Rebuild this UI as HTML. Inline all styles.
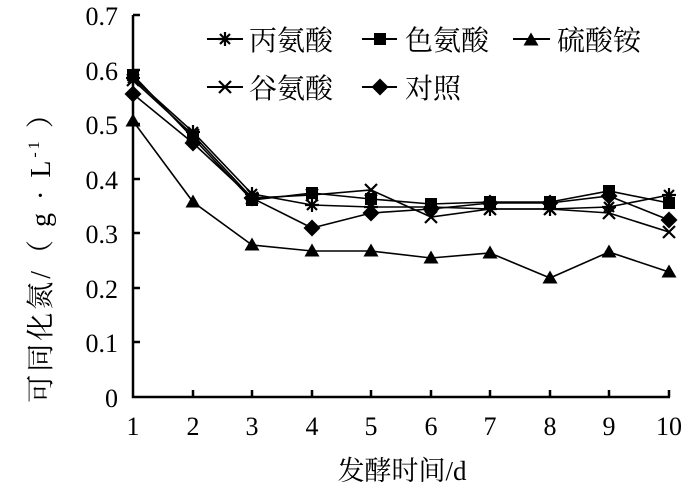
<!DOCTYPE html>
<html><head><meta charset="utf-8"><style>
html,body{margin:0;padding:0;background:#fff;}
svg{display:block;}
text{font-family:"Liberation Serif","Noto Serif CJK SC",serif;fill:#000;}
.cn{font-family:"Liberation Serif","Noto Serif CJK SC","Noto Sans CJK SC",serif;}
</style></head><body>
<svg width="696" height="491" viewBox="0 0 696 491" xmlns="http://www.w3.org/2000/svg">
<defs>
<g id="ast"><path d="M-7,0H7M0,-7V7M-5,-5L5,5M-5,5L5,-5" stroke="#000" stroke-width="2.2"/></g>
<g id="sq"><rect x="-6" y="-6" width="12" height="12" fill="#000"/></g>
<g id="tri"><path d="M0,-7.5L7.5,5.5H-7.5Z" fill="#000"/></g>
<g id="xx"><path d="M-6,-6L6,6M-6,6L6,-6" stroke="#000" stroke-width="2.2"/></g>
<g id="dia"><path d="M0,-8.5L8.5,0L0,8.5L-8.5,0Z" fill="#000"/></g>
</defs>
<g stroke="#000" stroke-width="2.5" fill="none">
<path d="M133,15V397H670"/>
<path d="M133,15H140M133,70H140M133,124H140M133,179H140M133,233H140M133,288H140M133,342H140"/>
<path d="M193,397V390M252,397V390M312,397V390M371,397V390M431,397V390M490,397V390M550,397V390M609,397V390M669,397V390"/>
</g>
<g font-size="26" text-anchor="end">
<text x="118" y="25">0.7</text><text x="118" y="80">0.6</text><text x="118" y="134">0.5</text>
<text x="118" y="189">0.4</text><text x="118" y="243">0.3</text><text x="118" y="298">0.2</text>
<text x="118" y="352">0.1</text><text x="118" y="407">0</text>
</g>
<g font-size="26" text-anchor="middle">
<text x="133" y="435">1</text><text x="193" y="435">2</text><text x="252" y="435">3</text><text x="312" y="435">4</text><text x="371" y="435">5</text><text x="431" y="435">6</text><text x="490" y="435">7</text><text x="550" y="435">8</text><text x="609" y="435">9</text><text x="669" y="435">10</text>
</g>
<text class="cn" x="402" y="480" font-size="27" text-anchor="middle">发酵时间/d</text>
<text class="cn" transform="translate(50,250) rotate(-90)" font-size="28" letter-spacing="3" text-anchor="middle">可同化氮/（ g · L<tspan font-size="16" dy="-11">-1</tspan><tspan dy="11"> ）</tspan></text>
<g stroke="#000" stroke-width="1.6" fill="none">
<polyline points="133,78 193,132 252,194 312,205 371,207 431,207 490,209 550,209 609,207 669,195"/>
<polyline points="133,75 193,138 252,200 312,193 371,199 431,204 490,202 550,202 609,191 669,203"/>
<polyline points="133,121 193,202 252,245 312,251 371,251 431,258 490,253 550,278 609,252 669,272"/>
<polyline points="133,80 193,135 252,198 312,195 371,190 431,217 490,209 550,209 609,213 669,232"/>
<polyline points="133,94 193,143 252,198 312,228 371,213 431,209 490,203 550,203 609,196 669,220"/>
</g>
<g>
<use href="#ast" x="133" y="78"/><use href="#ast" x="193" y="132"/><use href="#ast" x="252" y="194"/><use href="#ast" x="312" y="205"/><use href="#ast" x="371" y="207"/><use href="#ast" x="431" y="207"/><use href="#ast" x="490" y="209"/><use href="#ast" x="550" y="209"/><use href="#ast" x="609" y="207"/><use href="#ast" x="669" y="195"/>
<use href="#sq" x="133" y="75"/><use href="#sq" x="193" y="138"/><use href="#sq" x="252" y="200"/><use href="#sq" x="312" y="193"/><use href="#sq" x="371" y="199"/><use href="#sq" x="431" y="204"/><use href="#sq" x="490" y="202"/><use href="#sq" x="550" y="202"/><use href="#sq" x="609" y="191"/><use href="#sq" x="669" y="203"/>
<use href="#tri" x="133" y="121"/><use href="#tri" x="193" y="202"/><use href="#tri" x="252" y="245"/><use href="#tri" x="312" y="251"/><use href="#tri" x="371" y="251"/><use href="#tri" x="431" y="258"/><use href="#tri" x="490" y="253"/><use href="#tri" x="550" y="278"/><use href="#tri" x="609" y="252"/><use href="#tri" x="669" y="272"/>
<use href="#xx" x="133" y="80"/><use href="#xx" x="193" y="135"/><use href="#xx" x="252" y="198"/><use href="#xx" x="312" y="195"/><use href="#xx" x="371" y="190"/><use href="#xx" x="431" y="217"/><use href="#xx" x="490" y="209"/><use href="#xx" x="550" y="209"/><use href="#xx" x="609" y="213"/><use href="#xx" x="669" y="232"/>
<use href="#dia" x="133" y="94"/><use href="#dia" x="193" y="143"/><use href="#dia" x="252" y="198"/><use href="#dia" x="312" y="228"/><use href="#dia" x="371" y="213"/><use href="#dia" x="431" y="209"/><use href="#dia" x="490" y="203"/><use href="#dia" x="550" y="203"/><use href="#dia" x="609" y="196"/><use href="#dia" x="669" y="220"/>
</g>
<g stroke="#000" stroke-width="2">
<path d="M207,39H243M362,39H397M513,39H550M207,87H243M362,87H397"/>
</g>
<use href="#ast" x="225" y="39"/><use href="#sq" x="380" y="39"/><use href="#tri" x="531" y="40"/>
<use href="#xx" x="225" y="87"/><use href="#dia" x="380" y="87"/>
<g font-size="28">
<text class="cn" x="249" y="50">丙氨酸</text>
<text class="cn" x="405" y="50">色氨酸</text>
<text class="cn" x="557" y="50">硫酸铵</text>
<text class="cn" x="249" y="98">谷氨酸</text>
<text class="cn" x="405" y="98">对照</text>
</g>
</svg>
</body></html>
